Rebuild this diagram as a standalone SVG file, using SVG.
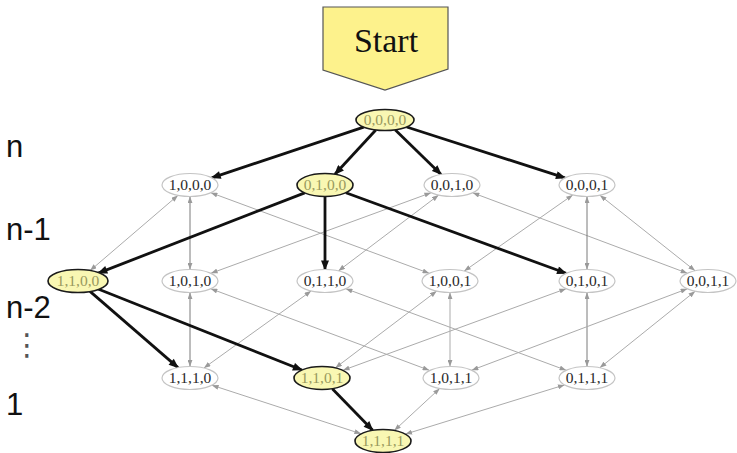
<svg xmlns="http://www.w3.org/2000/svg" width="737" height="453" viewBox="0 0 737 453">
<defs>
<style>
.side{font-family:"Liberation Sans",Arial,sans-serif;font-size:31px;fill:#111}
.dots{font-family:"DejaVu Sans",sans-serif;font-size:30px;fill:#555;text-anchor:middle}
.st{font-family:"Liberation Serif","Times New Roman",serif;font-size:34px;fill:#111;text-anchor:middle}
.nd ellipse{fill:#fff;stroke:#c4c4c4;stroke-width:1.2}
.nd text{font-family:"Liberation Serif","Times New Roman",serif;font-size:15.5px;fill:#2a2a2a;text-anchor:middle}
.hl ellipse{fill:#f9f7b3;stroke:#1a1a1a;stroke-width:1.6}
.hl text{fill:#9a9a5e}
.thin{stroke:#ababab;stroke-width:1;fill:none;marker-start:url(#gs);marker-end:url(#ge)}
.dk{stroke:#7a7a7a}
.thick{stroke:#111;stroke-width:2.8;fill:none;marker-end:url(#be)}
</style>
<marker id="ge" viewBox="0 0 8 6" refX="8" refY="3" markerWidth="7" markerHeight="5" markerUnits="userSpaceOnUse" orient="auto"><path d="M0,0 L8,3 L0,6 z" fill="#9a9a9a"/></marker>
<marker id="gs" viewBox="0 0 8 6" refX="8" refY="3" markerWidth="7" markerHeight="5" markerUnits="userSpaceOnUse" orient="auto-start-reverse"><path d="M0,0 L8,3 L0,6 z" fill="#9a9a9a"/></marker>
<marker id="be" viewBox="0 0 10 8" refX="9" refY="4" markerWidth="11" markerHeight="8" markerUnits="userSpaceOnUse" orient="auto"><path d="M0,0 L10,4 L0,8 z" fill="#111"/></marker>
</defs>
<rect width="737" height="453" fill="#fff"/>

<g id="start">
<path d="M323,7 H448 V69 L385,90 L323,70 Z" fill="#fdf28c" stroke="#555" stroke-width="1.2"/>
<text class="st" x="386" y="52">Start</text>
</g>

<g id="labels">
<text class="side" x="6" y="157">n</text>
<text class="side" x="6" y="240">n-1</text>
<text class="side" x="6" y="318">n-2</text>
<text class="dots" x="27" y="355">⋮</text>
<text class="side" x="6" y="415">1</text>
</g>

<g id="connectors">
<line class="thin" x1="177.9" y1="195.4" x2="90.1" y2="270.6"/>
<line class="thin dk" x1="190" y1="196.5" x2="190" y2="269.5"/>
<line class="thin" x1="210.8" y1="192.7" x2="429.2" y2="273.3"/>
<line class="thin" x1="431.1" y1="192.7" x2="210.9" y2="273.3"/>
<line class="thin" x1="438.6" y1="195.1" x2="338.4" y2="270.9"/>
<line class="thin" x1="472.7" y1="192.8" x2="687.3" y2="273.2"/>
<line class="thin" x1="572.8" y1="194.9" x2="464.2" y2="271.1"/>
<line class="thin dk" x1="587" y1="196.5" x2="587" y2="269.5"/>
<line class="thin" x1="599.9" y1="195.2" x2="695.1" y2="270.8"/>
<line class="thin dk" x1="190" y1="292.5" x2="190" y2="366.5"/>
<line class="thin" x1="210.7" y1="288.7" x2="429.3" y2="370.3"/>
<line class="thin" x1="311.1" y1="291" x2="203.9" y2="368"/>
<line class="thin" x1="345.8" y1="288.7" x2="566.2" y2="370.3"/>
<line class="thin" x1="436.7" y1="291.1" x2="335.3" y2="367.9"/>
<line class="thin" x1="450" y1="292.5" x2="450" y2="366.5"/>
<line class="thin" x1="566.1" y1="288.7" x2="342.9" y2="370.3"/>
<line class="thin dk" x1="587" y1="292.5" x2="587" y2="366.5"/>
<line class="thin" x1="687.3" y1="288.8" x2="471.7" y2="370.2"/>
<line class="thin" x1="695.2" y1="291.2" x2="599.8" y2="367.8"/>
<line class="thin" x1="211.9" y1="385.2" x2="361.1" y2="433.8"/>
<line class="thin" x1="439.7" y1="388.5" x2="394.3" y2="430.5"/>
<line class="thin" x1="564.6" y1="384.9" x2="405.4" y2="434.1"/>

<line class="thick" x1="363.7" y1="127.1" x2="211.7" y2="177.8"/>
<line class="thick" x1="375.8" y1="130" x2="334.9" y2="174.3"/>
<line class="thick" x1="395.1" y1="129.8" x2="441.1" y2="174.4"/>
<line class="thick" x1="406.7" y1="127" x2="565" y2="177.9"/>
<line class="thick" x1="304.7" y1="192.9" x2="98.3" y2="273.1"/>
<line class="thick" x1="325" y1="196.5" x2="325" y2="269.5"/>
<line class="thick" x1="345.9" y1="192.7" x2="566.1" y2="273.3"/>
<line class="thick" x1="90" y1="291.4" x2="178" y2="367.6"/>
<line class="thick" x1="98.1" y1="289" x2="301.9" y2="370"/>
<line class="thick" x1="332.3" y1="388.7" x2="372.7" y2="430.3"/>
</g>

<g id="n0000" class="nd hl"><ellipse cx="385" cy="120" rx="29" ry="10.5"/><text x="385" y="125">0,0,0,0</text></g>

<g id="n1000" class="nd"><ellipse cx="190" cy="185" rx="28" ry="11.5"/><text x="190" y="190">1,0,0,0</text></g>
<g id="n0100" class="nd hl"><ellipse cx="325" cy="185" rx="28" ry="11.5"/><text x="325" y="190">0,1,0,0</text></g>
<g id="n0010" class="nd"><ellipse cx="452" cy="185" rx="28" ry="11.5"/><text x="452" y="190">0,0,1,0</text></g>
<g id="n0001" class="nd"><ellipse cx="587" cy="185" rx="28" ry="11.5"/><text x="587" y="190">0,0,0,1</text></g>

<g id="n1100" class="nd hl"><ellipse cx="78" cy="281" rx="30" ry="11.5"/><text x="78" y="286">1,1,0,0</text></g>
<g id="n1010" class="nd"><ellipse cx="190" cy="281" rx="28" ry="11.5"/><text x="190" y="286">1,0,1,0</text></g>
<g id="n0110" class="nd"><ellipse cx="325" cy="281" rx="28" ry="11.5"/><text x="325" y="286">0,1,1,0</text></g>
<g id="n1001" class="nd"><ellipse cx="450" cy="281" rx="28" ry="11.5"/><text x="450" y="286">1,0,0,1</text></g>
<g id="n0101" class="nd"><ellipse cx="587" cy="281" rx="28" ry="11.5"/><text x="587" y="286">0,1,0,1</text></g>
<g id="n0011" class="nd"><ellipse cx="708" cy="281" rx="28" ry="11.5"/><text x="708" y="286">0,0,1,1</text></g>

<g id="n1110" class="nd"><ellipse cx="190" cy="378" rx="28" ry="11.5"/><text x="190" y="383">1,1,1,0</text></g>
<g id="n1101" class="nd hl"><ellipse cx="322" cy="378" rx="28" ry="11.5"/><text x="322" y="383">1,1,0,1</text></g>
<g id="n1011" class="nd"><ellipse cx="451" cy="378" rx="28" ry="11.5"/><text x="451" y="383">1,0,1,1</text></g>
<g id="n0111" class="nd"><ellipse cx="587" cy="378" rx="28" ry="11.5"/><text x="587" y="383">0,1,1,1</text></g>

<g id="n1111" class="nd hl"><ellipse cx="383" cy="441" rx="28" ry="11.5"/><text x="383" y="446">1,1,1,1</text></g>
</svg>
